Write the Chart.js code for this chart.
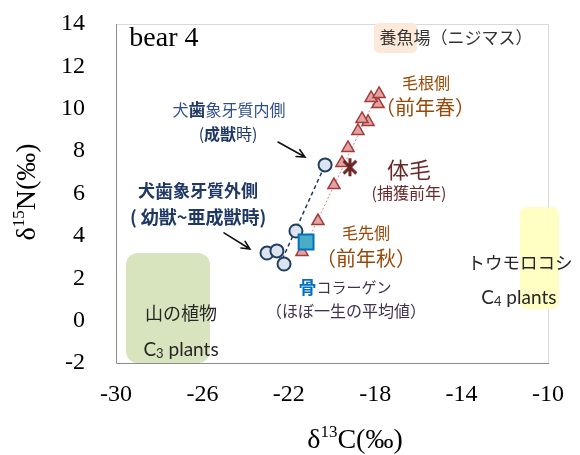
<!DOCTYPE html>
<html><head><meta charset="utf-8">
<script src="https://cdn.jsdelivr.net/npm/chart.js@4/dist/chart.umd.min.js"></script>
<style>html,body{margin:0;padding:0;background:#fff}#c{display:block}</style>
</head><body>
<canvas id="c" width="580" height="455"></canvas>
<script>
// Axis ticks
const xTicks = [-30, -26, -22, -18, -14, -10];
const yTicks = [-2, 0, 2, 4, 6, 8, 10, 12, 14];

// 犬歯象牙質 (canine dentine increments)
const dentinC = [-20.32, -21.67, -23.01, -22.55, -22.22];
const dentinN = [7.35, 4.23, 3.19, 3.29, 2.67];

// 毛 (hair segments, tip -> root)
const hairC = [-21.39, -20.65, -19.91, -19.54, -19.26, -18.80, -18.33, -18.61, -17.87, -18.19, -17.82];
const hairN = [3.24, 4.70, 6.40, 7.44, 8.15, 8.95, 9.38, 9.52, 10.22, 10.51, 10.70];

// 体毛 (bulk body hair)
const bodyHairC = [-19.17];
const bodyHairN = [7.24];

// 骨コラーゲン (bone collagen)
const boneC = [-21.2];
const boneN = [3.71];

// trend lines (end points)
const dentinTrendC = [-22.3, -20.32];
const dentinTrendN = [2.9, 7.35];
const hairTrendC = [-21.39, -17.87];
const hairTrendN = [3.19, 10.74];

// source ranges: [cMin, cMax] / [nMin, nMax]
const c3RangeC = [-29.54, -25.65];
const c3RangeN = [-2.0, 3.19];
const c4RangeC = [-11.30, -9.49];
const c4RangeN = [0.55, 5.36];
const fishRangeC = [-18.06, -16.06];
const fishRangeN = [12.63, 14.05];

const CJK = "'Noto Sans CJK JP', 'Noto Sans', sans-serif";
const LAT = "Lato, 'Noto Sans', sans-serif";
const SERIF = "'Liberation Serif', 'DejaVu Serif', serif";

const pts = (xs, ys) => xs.map((x, i) => ({ x, y: ys[i] }));

// six-spoke asterisk marker
function asteriskMarker(size, color, lw) {
  const cv = document.createElement('canvas');
  cv.width = size; cv.height = size;
  const g = cv.getContext('2d');
  g.strokeStyle = color; g.lineWidth = lw; g.lineCap = 'butt';
  const m = size / 2, r = size / 2 - 1;
  g.beginPath();
  g.moveTo(m, m - r); g.lineTo(m, m + r);
  const d = r * Math.SQRT1_2;
  g.moveTo(m - d, m - d); g.lineTo(m + d, m + d);
  g.moveTo(m + d, m - d); g.lineTo(m - d, m + d);
  g.stroke();
  return cv;
}

function run(text, size, color, weight, family, dy) {
  return { text, font: (weight || 400) + ' ' + size + 'px ' + (family || CJK), color, dy: dy || 0 };
}

const labels = [
  { c: -27.78, n: 13.29, runs: [run('bear 4', 28, '#000', 400, SERIF)] },
  { c: -14.26, n: 13.34, runs: [run('養魚場（ニジマス）', 17, '#333')] },
  { c: -15.65, n: 11.22, runs: [run('毛根側', 16, '#984807')] },
  { c: -15.69, n: 10.04, runs: [run('（前年春）', 20, '#984807')] },
  { c: -24.77, n: 9.94, runs: [run('犬', 16, '#2f4f8a'), run('歯', 17, '#1f3864', 700), run('象牙質内側', 16, '#2f4f8a')] },
  { c: -24.81, n: 8.81, runs: [run('(', 16, '#1f3864'), run('成獣', 16, '#1f3864', 700), run('時)', 16, '#1f3864')] },
  { c: -26.20, n: 6.12, runs: [run('犬', 17, '#1f3864', 700), run('歯', 18, '#1f3864', 700), run('象牙質外側', 17, '#1f3864', 700)] },
  { c: -26.20, n: 4.89, runs: [run('( 幼獣~亜成獣時)', 18, '#1f3864', 700)] },
  { c: -16.44, n: 7.11, runs: [run('体毛', 22, '#6b2a2a')] },
  { c: -16.44, n: 6.02, runs: [run('(捕獲前年)', 16, '#6b2a2a')] },
  { c: -18.43, n: 4.14, runs: [run('毛先側', 16, '#984807')] },
  { c: -18.43, n: 2.96, runs: [run('（前年秋）', 20, '#984807')] },
  { c: -19.40, n: 1.59, runs: [run('骨', 18, '#0070c0', 700), run('コラーゲン', 15, '#403152')] },
  { c: -19.35, n: 0.46, runs: [run('（ほぼ一生の平均値）', 16, '#403152')] },
  { c: -26.99, n: 0.36, runs: [run('山の植物', 18, '#262626')] },
  { c: -26.99, n: -1.39, runs: [run('C', 19, '#262626', 400, LAT), run('3', 13, '#262626', 400, LAT, 4), run(' plants', 19, '#262626', 400, LAT)] },
  { c: -11.30, n: 2.77, runs: [run('トウモロコシ', 17.5, '#262626')] },
  { c: -11.35, n: 1.07, runs: [run('C', 19, '#262626', 400, LAT), run('4', 13, '#262626', 400, LAT, 4), run(' plants', 19, '#262626', 400, LAT)] }
];

// callout arrows [fromC, fromN, toC, toN]
const arrows = [
  [-22.50, 8.43, -21.25, 7.72],
  [-25.00, 4.14, -23.80, 3.38]
];

function drawRuns(ctx, cx, cy, runs) {
  let total = 0;
  for (const r of runs) { ctx.font = r.font; r.w = ctx.measureText(r.text).width; total += r.w; }
  let x = cx - total / 2;
  ctx.textAlign = 'left';
  ctx.textBaseline = 'middle';
  for (const r of runs) {
    ctx.font = r.font; ctx.fillStyle = r.color;
    ctx.fillText(r.text, x, cy + r.dy);
    x += r.w;
  }
}

function roundBox(ctx, xs, ys, rc, rn, radius, fill) {
  const x0 = xs.getPixelForValue(rc[0]), x1 = xs.getPixelForValue(rc[1]);
  const y0 = ys.getPixelForValue(rn[1]), y1 = ys.getPixelForValue(rn[0]);
  ctx.beginPath();
  ctx.roundRect(x0, y0, x1 - x0, y1 - y0, radius);
  ctx.fillStyle = fill;
  ctx.fill();
}

const backdrop = {
  id: 'backdrop',
  beforeDatasetsDraw(chart) {
    const { ctx, chartArea: a, scales: { x, y } } = chart;
    ctx.save();
    // plot frame
    ctx.lineWidth = 1;
    ctx.strokeStyle = '#d9d9d9';
    ctx.beginPath();
    ctx.moveTo(a.left, a.top + 0.5); ctx.lineTo(a.right + 0.5, a.top + 0.5); ctx.lineTo(a.right + 0.5, a.bottom);
    ctx.stroke();
    ctx.strokeStyle = '#8c8c8c';
    ctx.beginPath();
    ctx.moveTo(a.left + 0.5, a.top); ctx.lineTo(a.left + 0.5, a.bottom + 0.5); ctx.lineTo(a.right + 1, a.bottom + 0.5);
    ctx.stroke();
    // source ranges
    roundBox(ctx, x, y, fishRangeC, fishRangeN, 5, '#fde9d9');
    roundBox(ctx, x, y, c3RangeC, c3RangeN, 12, '#d7e4bd');
    roundBox(ctx, x, y, c4RangeC, c4RangeN, 7, 'rgba(255,255,190,0.92)');
    ctx.restore();
  },
  afterDatasetsDraw(chart) {
    const { ctx, scales: { x, y } } = chart;
    ctx.save();
    for (const l of labels) drawRuns(ctx, x.getPixelForValue(l.c), y.getPixelForValue(l.n), l.runs);
    // arrows
    ctx.strokeStyle = '#111'; ctx.lineWidth = 1.6; ctx.lineCap = 'round';
    for (const [c0, n0, c1, n1] of arrows) {
      const px0 = x.getPixelForValue(c0), py0 = y.getPixelForValue(n0);
      const px1 = x.getPixelForValue(c1), py1 = y.getPixelForValue(n1);
      const ang = Math.atan2(py1 - py0, px1 - px0), h = 9;
      ctx.beginPath();
      ctx.moveTo(px0, py0); ctx.lineTo(px1, py1);
      ctx.moveTo(px1 - h * Math.cos(ang - 0.45), py1 - h * Math.sin(ang - 0.45));
      ctx.lineTo(px1, py1);
      ctx.lineTo(px1 - h * Math.cos(ang + 0.45), py1 - h * Math.sin(ang + 0.45));
      ctx.stroke();
    }
    // axis titles with superscripts
    const big = '400 28px ' + SERIF, small = '400 17px ' + SERIF;
    const titleRuns = (el) => [
      { text: 'δ', font: big, color: '#000', dy: 0 },
      { text: el[0], font: small, color: '#000', dy: -8 },
      { text: el[1], font: big, color: '#000', dy: 0 }
    ];
    drawRuns(ctx, 355, 441, titleRuns(['13', 'C(‰)']));
    ctx.translate(28, 192);
    ctx.rotate(-Math.PI / 2);
    drawRuns(ctx, 0, 0, titleRuns(['15', 'N(‰)']));
    ctx.restore();
  }
};

new Chart(document.getElementById('c'), {
  type: 'scatter',
  data: {
    datasets: [
      {
        label: 'dentin trend', data: pts(dentinTrendC, dentinTrendN), showLine: true,
        borderColor: '#1f3864', borderWidth: 1.5, borderDash: [4, 3], pointRadius: 0, order: 10
      },
      {
        label: 'hair trend', data: pts(hairTrendC, hairTrendN), showLine: true,
        borderColor: '#ee7f7f', borderWidth: 1, borderDash: [2, 2], pointRadius: 0, order: 9
      },
      {
        label: '毛', data: pts(hairC, hairN), pointStyle: 'triangle', pointRadius: 7,
        backgroundColor: '#e3a3a3', borderColor: '#a33b3b', borderWidth: 1.5, order: 5
      },
      {
        label: '犬歯象牙質', data: pts(dentinC, dentinN), pointStyle: 'circle', pointRadius: 6.5,
        backgroundColor: '#dbe5f1', borderColor: '#243f60', borderWidth: 2, order: 4
      },
      {
        label: '体毛', data: pts(bodyHairC, bodyHairN), pointStyle: asteriskMarker(20, '#6b2323', 3),
        pointRadius: 10, order: 3
      },
      {
        label: '骨コラーゲン', data: pts(boneC, boneN), pointStyle: 'rect', pointRadius: 10.5,
        backgroundColor: '#4bacc6', borderColor: '#0070c0', borderWidth: 2, order: 1
      }
    ]
  },
  options: {
    responsive: false,
    animation: false,
    events: [],
    layout: { padding: { top: 24, right: 32, left: 0, bottom: 0 } },
    plugins: { legend: { display: false }, tooltip: { enabled: false } },
    scales: {
      x: {
        type: 'linear', min: xTicks[0], max: xTicks[xTicks.length - 1],
        afterBuildTicks: (s) => { s.ticks = xTicks.map(v => ({ value: v })); },
        afterFit: (s) => { s.height = 92; s.paddingLeft = 0; s.paddingRight = 0; },
        grid: { display: false, drawTicks: false },
        border: { display: false },
        ticks: { font: { family: SERIF, size: 24 }, color: '#000', padding: 17, maxRotation: 0 }
      },
      y: {
        type: 'linear', min: yTicks[0], max: yTicks[yTicks.length - 1],
        afterBuildTicks: (s) => { s.ticks = yTicks.map(v => ({ value: v })); },
        afterFit: (s) => { s.width = 116; s.paddingTop = 0; s.paddingBottom = 0; },
        grid: { display: false, drawTicks: false },
        border: { display: false },
        ticks: { font: { family: SERIF, size: 24 }, color: '#000', padding: 31 }
      }
    }
  },
  plugins: [backdrop]
});
</script>
</body></html>
